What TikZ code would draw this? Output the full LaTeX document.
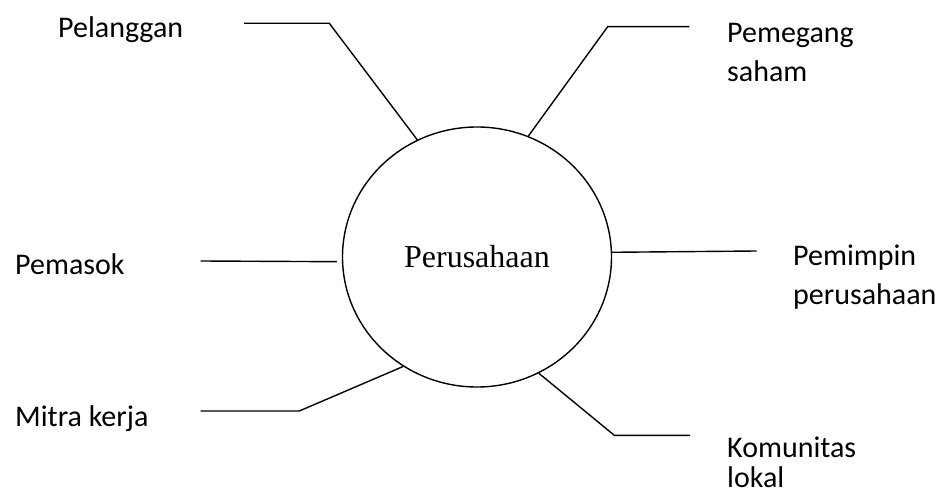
\documentclass[tikz,border=0pt]{standalone}
\usepackage{fontspec}
\setmainfont{Carlito}
\newfontfamily\firmfont{Liberation Serif}
\usetikzlibrary{shapes.geometric}

\tikzset{
  link/.style={line width=1.4bp, line join=miter},
  party/.style={anchor=base west, inner sep=0pt,
    font=\fontsize{30bp}{38.5bp}\selectfont},
  firmbox/.style={ellipse, draw, line width=1.4bp, inner sep=0pt,
    minimum width=269bp, minimum height=260bp,
    font=\firmfont\fontsize{32bp}{38bp}\selectfont}
}
% two left-aligned lines, baseline on the first line
\newcommand{\twolines}[3][38.5bp]{\vtop{\baselineskip=#1\hbox{#2}\hbox{#3}}}

\begin{document}
\begin{tikzpicture}[x=1bp, y=-1bp]
  \useasboundingbox (0,0) rectangle (940,495);

  % central organisation
  \node[firmbox] (firm) at (477,257) {Perusahaan};

  % stakeholder labels
  \node[party] (pelanggan) at (58,38) {Pelanggan};
  \node[party] (pemegang) at (727,43) {\twolines{Pemegang}{saham}};
  \node[party] (pemasok) at (15,275) {Pemasok};
  \node[party] (pemimpin) at (793,266) {\twolines{Pemimpin}{perusahaan}};
  \node[party] (mitra) at (15,426) {Mitra kerja};
  \node[party] (komunitas) at (727,457) {\twolines[30bp]{Komunitas}{lokal}};

  % connector ends and bends
  \coordinate (pelEnd) at (244,23.3);
  \coordinate (pelBend) at (329.3,23.3);
  \coordinate (pemEnd) at (689.3,26.7);
  \coordinate (pemBend) at (607.7,26.7);
  \coordinate (sokEnd) at (200.7,261);
  \coordinate (pimEnd) at (756.7,251);
  \coordinate (mitEnd) at (200.7,411);
  \coordinate (mitBend) at (299.3,411);
  \coordinate (komEnd) at (690,435.3);
  \coordinate (komBend) at (614.3,435.3);

  % connectors
  \draw[link] (pelEnd) -- (pelBend) -- (firm.117.3);
  \draw[link] (pemEnd) -- (pemBend) -- (firm.67.8);
  \draw[link, shorten >=5bp] (sokEnd) -- (firm.182);
  \draw[link] (firm.2.6) -- (pimEnd);
  \draw[link] (mitEnd) -- (mitBend) -- (firm.236.3);
  \draw[link] (komEnd) -- (komBend) -- (firm.298.8);
\end{tikzpicture}
\end{document}
